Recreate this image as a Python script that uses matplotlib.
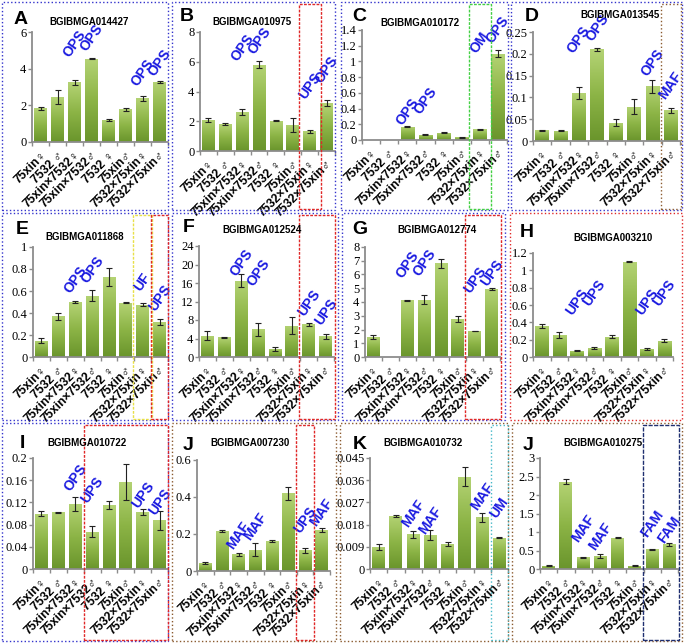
import numpy as np
import matplotlib
matplotlib.use("Agg")
import matplotlib.pyplot as plt
import matplotlib.transforms as mtransforms
from matplotlib.colors import LinearSegmentedColormap
from matplotlib.patches import Rectangle

W, H = 685, 643

categories = ['75xin♀', '7532 ♂', '75xin×7532♀', '75xin×7532♂',
              '7532 ♀', '75xin♂', '7532×75xin♀', '7532×75xin♂']
ann_idx = [2, 3, 6, 7]

# expression values and error bars, one pair per panel
vals_A = [1.85, 2.45, 3.25, 4.55, 1.22, 1.78, 2.38, 3.28]
err_A = [0.08, 0.40, 0.12, 0.02, 0.05, 0.08, 0.12, 0.05]
vals_B = [2.10, 1.80, 2.60, 5.80, 2.05, 1.75, 1.32, 3.20]
err_B = [0.15, 0.08, 0.20, 0.25, 0.03, 0.50, 0.12, 0.20]
vals_C = [0.0, 0.0, 0.17, 0.065, 0.095, 0.035, 0.135, 1.10]
err_C = [0.0, 0.0, 0.01, 0.005, 0.005, 0.005, 0.008, 0.04]
vals_D = [0.025, 0.024, 0.110, 0.210, 0.042, 0.079, 0.126, 0.070]
err_D = [0.001, 0.001, 0.013, 0.003, 0.008, 0.017, 0.015, 0.005]
vals_E = [0.15, 0.37, 0.50, 0.555, 0.725, 0.495, 0.475, 0.32]
err_E = [0.02, 0.03, 0.012, 0.05, 0.08, 0.008, 0.015, 0.025]
vals_F = [4.6, 4.25, 16.5, 6.0, 1.75, 6.8, 7.1, 4.5]
err_F = [1.0, 0.1, 1.4, 1.4, 0.4, 1.9, 0.3, 0.5]
vals_G = [1.45, 0.0, 4.12, 4.18, 6.80, 2.75, 1.90, 4.95]
err_G = [0.12, 0.0, 0.05, 0.35, 0.30, 0.20, 0.02, 0.05]
vals_H = [0.36, 0.255, 0.075, 0.10, 0.235, 1.10, 0.095, 0.19]
err_H = [0.02, 0.03, 0.005, 0.01, 0.02, 0.003, 0.01, 0.02]
vals_I = [0.100, 0.102, 0.117, 0.067, 0.115, 0.157, 0.103, 0.088]
err_I = [0.005, 0.001, 0.012, 0.010, 0.007, 0.033, 0.006, 0.017]
vals_J = [0.043, 0.215, 0.090, 0.115, 0.160, 0.420, 0.112, 0.220]
err_J = [0.003, 0.005, 0.007, 0.035, 0.005, 0.035, 0.012, 0.010]
vals_K = [0.009, 0.0215, 0.014, 0.0138, 0.0103, 0.0375, 0.021, 0.0127]
err_K = [0.0012, 0.0005, 0.0015, 0.002, 0.0008, 0.004, 0.0018, 0.0003]
vals_L = [0.09, 2.36, 0.32, 0.36, 0.85, 0.09, 0.53, 0.67]
err_L = [0.01, 0.06, 0.01, 0.05, 0.01, 0.01, 0.02, 0.04]

ann_A = ['OPS', 'OPS', 'OPS', 'OPS']
ann_B = ['OPS', 'OPS', 'UPS', 'OPS']
ann_C = ['OPS', 'OPS', 'OM', 'OPS']
ann_D = ['OPS', 'OPS', 'OPS', 'MAF']
ann_E = ['OPS', 'OPS', 'UF', 'UPS']
ann_F = ['OPS', 'OPS', 'UPS', 'UPS']
ann_G = ['OPS', 'OPS', 'UPS', 'UPS']
ann_H = ['UPS', 'UPS', 'UPS', 'UPS']
ann_I = ['OPS', 'UPS', 'UPS', 'UPS']
ann_J = ['MAF', 'MAF', 'UPS', 'MAF']
ann_K = ['MAF', 'MAF', 'MAF', 'UM']
ann_L = ['MAF', 'MAF', 'FAM', 'FAM']

ticks_A = [0, 2, 4, 6]
ticks_B = [0, 2, 4, 6, 8]
ticks_C = [0, 0.2, 0.4, 0.6, 0.8, 1, 1.2, 1.4]
ticks_D = [0, 0.05, 0.1, 0.15, 0.2, 0.25]
ticks_E = [0, 0.2, 0.4, 0.6, 0.8, 1]
ticks_F = [0, 4, 8, 12, 16, 20, 24]
ticks_G = [0, 1, 2, 3, 4, 5, 6, 7, 8]
ticks_H = [0, 0.2, 0.4, 0.6, 0.8, 1, 1.2]
ticks_I = [0, 0.04, 0.08, 0.12, 0.16, 0.2]
ticks_J = [0, 0.2, 0.4, 0.6]
ticks_K = [0, 0.009, 0.018, 0.027, 0.036, 0.045]
ticks_L = [0, 0.5, 1, 1.5, 2, 2.5, 3]

BLUE = '#3333cc'
RED = '#e02828'
BROWN = '#8a5a2e'

# layout: axes (left, right, top, bottom) px, border box, highlight boxes,
# letter and title anchors, annotation heights (axes fraction)
panels = [
    dict(letter='A', gene='BGIBMGA014427', vals=vals_A, errs=err_A, ann=ann_A, ticks=ticks_A,
         ann_y=[0.89, 0.95, 0.63, 0.72], axes=(32, 168, 32, 142), border=(2, 168, 2, 210, BLUE),
         boxes=[], letter_xy=(14, 24), title_xy=(89, 22)),
    dict(letter='B', gene='BGIBMGA010975', vals=vals_B, errs=err_B, ann=ann_B, ticks=ticks_B,
         ann_y=[0.87, 0.93, 0.55, 0.68], axes=(200, 335, 32, 151), border=(172, 335, 2, 210, BLUE),
         boxes=[(6, 6, RED, 0.65, (0, (2, 1)))], letter_xy=(180, 21), title_xy=(252, 22)),
    dict(letter='C', gene='BGIBMGA010172', vals=vals_C, errs=err_C, ann=ann_C, ticks=ticks_C,
         ann_y=[0.26, 0.36, 0.89, 1.0], axes=(362, 507, 30, 140), border=(341, 508, 2, 210, BLUE),
         boxes=[(6, 6, '#44d044', 0.6, (0, (2, 1)))], letter_xy=(352, 21), title_xy=(420, 23)),
    dict(letter='D', gene='BGIBMGA013545', vals=vals_D, errs=err_D, ann=ann_D, ticks=ticks_D,
         ann_y=[0.93, 1.04, 0.72, 0.51], axes=(533, 680, 32, 141), border=(511, 682, 2, 210, BLUE),
         boxes=[(7, 7, BROWN, 0.55, ':')], letter_xy=(525, 21), title_xy=(620, 15)),
    dict(letter='E', gene='BGIBMGA011868', vals=vals_E, errs=err_E, ann=ann_E, ticks=ticks_E,
         ann_y=[0.70, 0.79, 0.68, 0.54], axes=(33, 168, 247, 357), border=(2, 168, 213, 420, BLUE),
         boxes=[(6, 6, '#e8e048', 0.55, (0, (2, 1))), (7, 7, RED, 0.5, (0, (2, 1)))],
         letter_xy=(16, 234), title_xy=(85, 237)),
    dict(letter='F', gene='BGIBMGA012524', vals=vals_F, errs=err_F, ann=ann_F, ticks=ticks_F,
         ann_y=[0.85, 0.76, 0.49, 0.41], axes=(199, 334, 246, 357), border=(172, 338, 213, 420, BLUE),
         boxes=[(6, 7, RED, 0.55, (0, (2, 1)))], letter_xy=(183, 232), title_xy=(262, 230)),
    dict(letter='G', gene='BGIBMGA012774', vals=vals_G, errs=err_G, ann=ann_G, ticks=ticks_G,
         ann_y=[0.84, 0.86, 0.70, 0.76], axes=(365, 500, 247, 357), border=(342, 505, 213, 420, BLUE),
         boxes=[(6, 7, RED, 0.55, (0, (2, 1)))], letter_xy=(352, 234), title_xy=(437, 230)),
    dict(letter='H', gene='BGIBMGA003210', vals=vals_H, errs=err_H, ann=ann_H, ticks=ticks_H,
         ann_y=[0.53, 0.62, 0.53, 0.62], axes=(533, 673, 253, 357), border=(510, 682, 213, 420, RED),
         boxes=[], letter_xy=(520, 237), title_xy=(613, 238)),
    dict(letter='I', gene='BGIBMGA010722', vals=vals_I, errs=err_I, ann=ann_I, ticks=ticks_I,
         ann_y=[0.82, 0.71, 0.67, 0.60], axes=(33, 168, 458, 569), border=(2, 168, 423, 641, BLUE),
         boxes=[(3, 7, RED, 0.5, (0, (2, 1)))], letter_xy=(20, 448), title_xy=(87, 443)),
    dict(letter='J', gene='BGIBMGA007230', vals=vals_J, errs=err_J, ann=ann_J, ticks=ticks_J,
         ann_y=[0.32, 0.40, 0.46, 0.53], axes=(197, 330, 460, 571), border=(172, 336, 423, 641, BROWN),
         boxes=[(6, 6, RED, 0.55, (0, (2, 1)))], letter_xy=(183, 450), title_xy=(250, 443)),
    dict(letter='K', gene='BGIBMGA010732', vals=vals_K, errs=err_K, ann=ann_K, ticks=ticks_K,
         ann_y=[0.50, 0.44, 0.65, 0.55], axes=(370, 508, 458, 569), border=(340, 508, 423, 641, BROWN),
         boxes=[(7, 7, '#44b8c8', 0.5, ':')], letter_xy=(353, 449), title_xy=(423, 443)),
    dict(letter='J', gene='BGIBMGA010275', vals=vals_L, errs=err_L, ann=ann_L, ticks=ticks_L,
         ann_y=[0.37, 0.29, 0.41, 0.35], axes=(540, 678, 458, 569), border=(512, 682, 423, 641, BROWN),
         boxes=[(6, 7, '#1f2f70', 0.55, (0, (3, 1)))], letter_xy=(523, 450), title_xy=(603, 443)),
]

green = LinearSegmentedColormap.from_list('bar', ['#6a952c', '#8cb446', '#b4d374'])
grad = np.linspace(0, 1, 64).reshape(-1, 1)
sans = ['Liberation Sans', 'DejaVu Sans']

fig = plt.figure(figsize=(W / 100, H / 100), dpi=100)


def fx(x):
    return x / W


def fy(y):
    return 1 - y / H


for p in panels:
    l, r, t, b = p['axes']
    ax = fig.add_axes([fx(l), fy(b), fx(r - l), (b - t) / H])
    x = np.arange(len(categories))
    vals = np.array(p['vals'])
    errs = np.array(p['errs'])
    bars = ax.bar(x, vals, width=0.75, color='#8cb446', edgecolor='none', zorder=2)
    for rect in bars:
        h = rect.get_height()
        if h <= 0:
            continue
        x0 = rect.get_x()
        im = ax.imshow(grad, extent=[x0, x0 + rect.get_width(), 0, h], origin='lower',
                       aspect='auto', cmap=green, zorder=2.5)
        im.set_clip_path(rect)
    has_err = errs > 0
    ax.errorbar(x[has_err], vals[has_err], yerr=errs[has_err], fmt='none', ecolor='#222222',
                elinewidth=0.8, capsize=2, capthick=0.8, zorder=4)

    ax.set_xlim(-0.5, 7.5)
    ax.set_ylim(0, p['ticks'][-1])
    ax.set_yticks(p['ticks'])
    ax.set_yticklabels([f'{v:g}' for v in p['ticks']], family='Liberation Serif', fontsize=9)
    ax.set_xticks(x)
    ax.set_xticklabels(categories, rotation=45, ha='right', va='top', rotation_mode='anchor',
                       fontsize=8.8, fontweight='bold', family=sans)
    ax.set_xticks(np.arange(-0.5, 8, 1), minor=True)
    ax.tick_params(axis='x', which='major', length=0, pad=5)
    ax.tick_params(axis='x', which='minor', length=3, color='#8c8c8c', width=1)
    ax.tick_params(axis='y', length=3, color='#8c8c8c', width=1, pad=1)
    for side in ['top', 'right']:
        ax.spines[side].set_visible(False)
    for side in ['left', 'bottom']:
        ax.spines[side].set_color('#8c8c8c')
        ax.spines[side].set_linewidth(1.3)
    ax.set_facecolor('none')

    tr = mtransforms.blended_transform_factory(ax.transData, ax.transAxes)
    for i, lab, yf in zip(ann_idx, p['ann'], p['ann_y']):
        ax.text(i, yf, lab, transform=tr, rotation=55, ha='center', va='center',
                color='#1a1ae0', fontsize=10, fontweight='bold', family=sans,
                clip_on=False, zorder=5)

    bx0, bx1, by0, by1, bc = p['border']
    fig.add_artist(Rectangle((fx(bx0), fy(by1)), fx(bx1 - bx0), (by1 - by0) / H,
                             transform=fig.transFigure, fill=False, ec=bc, lw=1.0, ls=':'))
    trb = mtransforms.blended_transform_factory(ax.transData, fig.transFigure)
    for i0, i1, c, pad, ls in p['boxes']:
        fig.add_artist(Rectangle((i0 - pad, fy(by1 - 1)), i1 - i0 + 2 * pad, (by1 - by0 - 3) / H,
                                 transform=trb, fill=False, ec=c, lw=1.0, ls=ls))

    lx, ly = p['letter_xy']
    fig.text(fx(lx), fy(ly), p['letter'], fontsize=14, fontweight='bold', family=sans,
             ha='left', va='baseline')
    tx, ty = p['title_xy']
    fig.text(fx(tx), fy(ty), p['gene'], fontsize=7, fontweight='bold', family=sans,
             ha='center', va='center')

fig.savefig('out.png', dpi=100)
